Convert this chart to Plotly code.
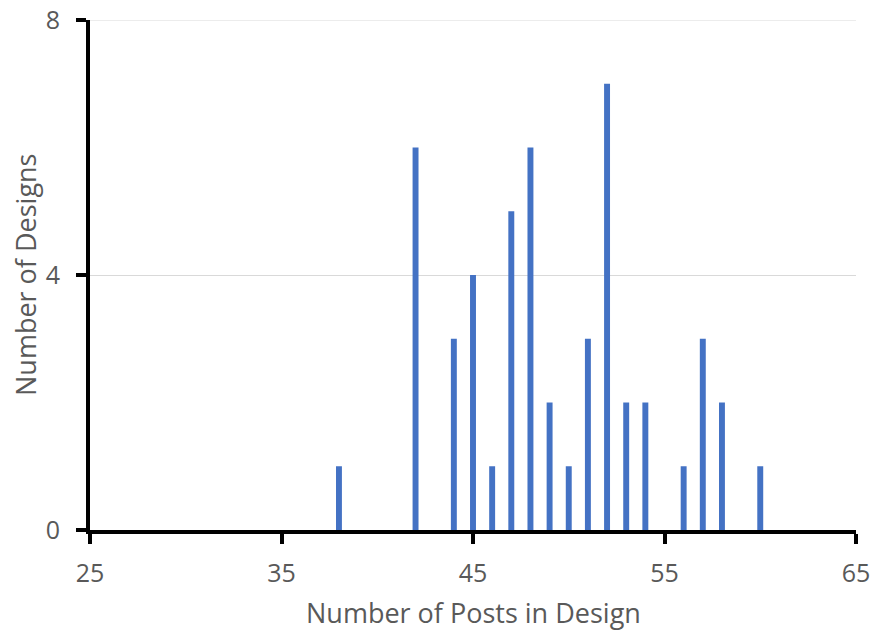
import plotly.graph_objects as go

posts = [38, 42, 44, 45, 46, 47, 48, 49, 50, 51, 52, 53, 54, 56, 57, 58, 60]
designs = [1, 6, 3, 4, 1, 5, 6, 2, 1, 3, 7, 2, 2, 1, 3, 2, 1]
x_ticks = [25, 35, 45, 55, 65]
y_ticks = [0, 4, 8]
x_title = "Number of Posts in Design"
y_title = "Number of Designs"

fig = go.Figure(go.Bar(x=posts, y=designs, width=0.31, marker=dict(color="#4472C4", line=dict(width=0))))

font = "Open Sans, Liberation Sans, sans-serif"
grey = "#595959"
fig.update_layout(
    width=874, height=630,
    margin=dict(l=90, r=18, t=20, b=100),
    plot_bgcolor="white", paper_bgcolor="white",
    showlegend=False,
    font=dict(family=font, color=grey, size=25),
)
fig.update_xaxes(
    range=[25, 65], tickvals=x_ticks, showgrid=False, zeroline=False, automargin=False,
    showline=True, linecolor="black", linewidth=4,
    ticks="outside", ticklen=10, tickwidth=4, tickcolor="black",
    tickfont=dict(size=25, color=grey), ticklabelstandoff=8,
)
fig.update_yaxes(
    range=[0, 8], tickvals=y_ticks, showgrid=True, gridcolor="#d9d9d9", gridwidth=1,
    zeroline=False, showline=True, linecolor="black", linewidth=4, automargin=False,
    ticks="outside", ticklen=10, tickwidth=4, tickcolor="black",
    tickfont=dict(size=25, color=grey), ticklabelstandoff=11,
)
# top gridline at the range edge
fig.add_shape(type="line", xref="paper", yref="y", x0=0, x1=1, y0=y_ticks[-1], y1=y_ticks[-1],
              line=dict(color="#d9d9d9", width=1), layer="below")
fig.add_annotation(text=x_title, xref="paper", yref="paper", x=0.5, y=0, yanchor="middle",
                   yshift=-82, showarrow=False, font=dict(size=27, color=grey))
fig.add_annotation(text=y_title, xref="paper", yref="paper", x=0, y=0.5, xanchor="center",
                   xshift=-65, textangle=-90, showarrow=False, font=dict(size=27, color=grey))
fig.write_html("out.html", config={"displayModeBar": False},
               post_script="document.body.style.margin='0';")
